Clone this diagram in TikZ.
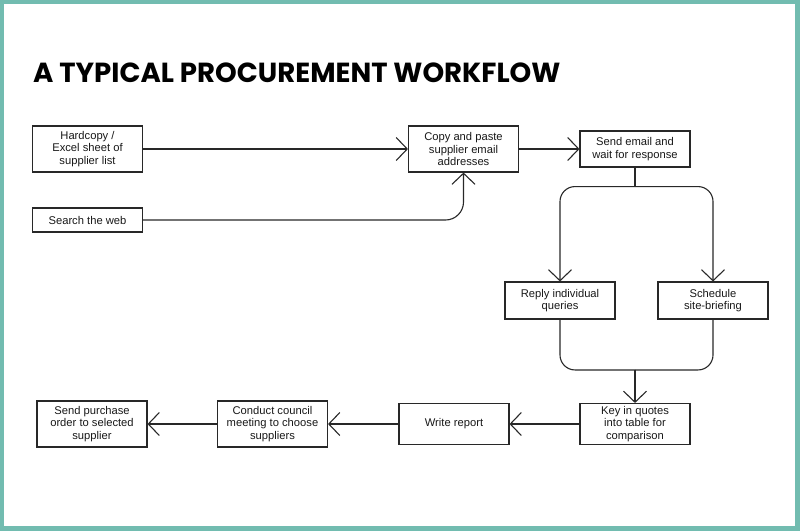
\documentclass[tikz,border=0pt]{standalone}
\usepackage{fontspec}
\setmainfont{Liberation Sans}
\newfontfamily\titlefont{Poppins}
\usetikzlibrary{positioning,calc,arrows.meta}
\definecolor{frameteal}{RGB}{114,188,176}
\definecolor{boxline}{RGB}{40,40,40}
\tikzset{TASK/.style={rectangle,draw=boxline,line width=1.1pt,minimum width=110pt,inner sep=2pt,align=center,font=\fontsize{11.2}{12.8}\selectfont,text=black!90}}
\tikzset{ARROW/.style={line width=1.1pt,draw=boxline,-{Straight Barb[length=11pt,width=23pt]}}}
\tikzset{LINE/.style={line width=1.1pt,draw=boxline}}
\tikzset{TITLE/.style={anchor=base west,inner sep=0pt,font=\titlefont\bfseries\fontsize{27.6}{30}\selectfont}}

\begin{document}
\begin{tikzpicture}[x=1pt,y=-1pt]
\useasboundingbox (0,0) rectangle (800,531);
\fill[frameteal] (0,0) rectangle (800,531);
\fill[white] (4,4) rectangle (795,526);

\node[TITLE] (n_title) at (33,82) {A TYPICAL PROCUREMENT WORKFLOW};

% sources of supplier addresses
\node[TASK, minimum height=46pt] (n_hardcopy) at (87.5,149) {Hardcopy /\\Excel sheet of\\supplier list};
\node[TASK, minimum height=24pt] (n_web) at (87.5,220) {Search the web};
\node[TASK, minimum height=46pt] (n_copy) at (463.5,149) {Copy and paste\\supplier email\\addresses};
\node[TASK, minimum height=36pt] (n_send) at (635,149) {Send email and\\wait for response};

% responses
\node[TASK, minimum height=37pt] (n_reply) at (560,300.5) {Reply individual\\queries};
\node[TASK, minimum height=37pt] (n_brief) at (713,300.5) {Schedule\\site-briefing};

% bottom row, right to left
\node[TASK, minimum height=41pt] (n_quotes) at (635,424) {Key in quotes\\into table for\\comparison};
\node[TASK, minimum height=41pt] (n_report) at (454,424) {Write report};
\node[TASK, minimum height=46pt] (n_council) at (272.5,424) {Conduct council\\meeting to choose\\suppliers};
\node[TASK, minimum height=46pt] (n_order) at (92,424) {Send purchase\\order to selected\\supplier};

\draw[ARROW] (n_hardcopy) -- (n_copy);
\draw[ARROW, rounded corners=18pt] (n_web.east) -| (n_copy.south);
\draw[ARROW] (n_copy) -- (n_send);

\coordinate (c_split) at ($(n_send.south)+(0,19)$);
\draw[LINE] (n_send.south) -- (c_split);
\draw[ARROW, rounded corners=15pt] (c_split) -| (n_reply.north);
\draw[ARROW, rounded corners=15pt] (c_split) -| (n_brief.north);

\coordinate (c_merge) at ($(n_quotes.north)+(0,-33)$);
\draw[LINE, rounded corners=15pt] (n_reply.south) |- (c_merge);
\draw[LINE, rounded corners=15pt] (n_brief.south) |- (c_merge);
\draw[ARROW] (c_merge) -- (n_quotes.north);

\draw[ARROW] (n_quotes) -- (n_report);
\draw[ARROW] (n_report) -- (n_council);
\draw[ARROW] (n_council) -- (n_order);

\end{tikzpicture}
\end{document}
